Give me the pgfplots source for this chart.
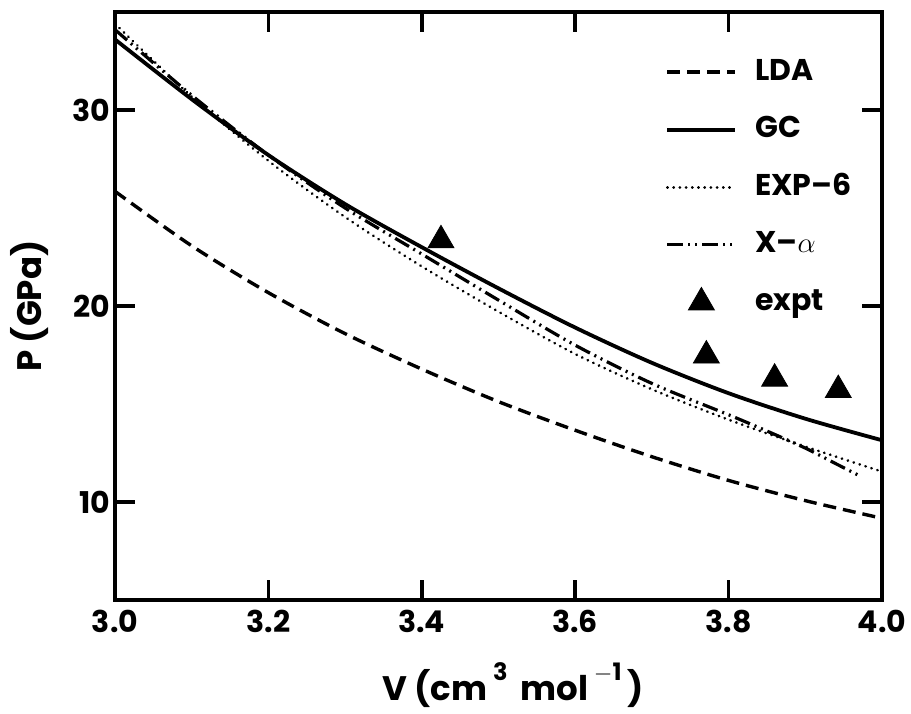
\documentclass[border=0pt]{standalone}
\usepackage{fontspec}
\setmainfont{Poppins}
\usepackage{pgfplots}
\pgfplotsset{compat=1.18}
\pgfplotsset{marklegend/.style={legend image code/.code={\draw[##1] plot[only marks] coordinates {(17pt,0pt)};}}}
\pgfplotstableread{
V P
3.0 25.85
3.1 23.07
3.2 20.68
3.3 18.59
3.4 16.78
3.5 15.12
3.6 13.66
3.7 12.31
3.8 11.10
3.9 10.07
4.0 9.17
}\lda
\pgfplotstableread{
V P
3.0 33.6
3.1 30.55
3.2 27.7
3.3 25.2
3.4 23.0
3.5 20.9
3.6 18.9
3.7 17.1
3.8 15.55
3.9 14.25
4.0 13.15
}\gc
\pgfplotstableread{
V P
3.0 34.4
3.1 30.68
3.2 27.41
3.3 24.54
3.4 22.02
3.5 19.71
3.6 17.55
3.7 15.75
3.8 14.2
3.9 12.83
4.0 11.55
}\expsix
\pgfplotstableread{
V P
3.0 34.1
3.1 30.75
3.2 27.7
3.3 25.0
3.4 22.65
3.5 20.3
3.6 18.0
3.7 16.05
3.8 14.45
3.85 13.62
3.9 12.75
3.94 11.95
3.97 11.35
}\xalpha
\pgfplotstableread{
V P
3.425 23.35
3.771 17.47
3.860 16.29
3.943 15.71
}\expt
\begin{document}
\bfseries
\begin{tikzpicture}
\useasboundingbox (-57.5pt,-56.5pt) rectangle (398pt,300pt);
\begin{axis}[
  at={(0pt,0pt)}, anchor=south west,
  scale only axis, width=383.5pt, height=294pt,
  xmin=3.0, xmax=4.0, ymin=5, ymax=35,
  xtick={3.0,3.2,3.4,3.6,3.8,4.0},
  ytick={10,20,30},
  minor tick num=0,
  tick align=inside,
  major tick length=10pt,
  tick style={line width=1.8pt, black},
  axis line style={line width=2.2pt},
  /pgf/number format/assume math mode=true,
  xticklabel style={yshift=-1.5pt, /pgf/number format/.cd, fixed, fixed zerofill, precision=1},
  yticklabel style={xshift=1pt},
  ticklabel style={font=\fontsize{15}{18}\selectfont\bfseries},
  every axis y label/.style={at={(axis description cs:-0.111,0.5)}, rotate=90, anchor=center, font=\fontsize{17}{20}\selectfont\bfseries},
  every axis x label/.style={at={(axis description cs:0.519,-0.171)}, anchor=base, font=\fontsize{17}{20}\selectfont\bfseries},
  xlabel={V (cm\,\raisebox{0.6em}{\fontsize{12}{14}\selectfont 3}\, mol\,\raisebox{0.6em}{\fontsize{12}{14}\selectfont $-$1}\,)},
  ylabel={P (GPa)},
  legend cell align=left,
  legend image code/.code={\draw[mark repeat=2,mark phase=2,#1] (0pt,0pt) -- (17pt,0pt) -- (34pt,0pt);},
  legend style={draw=none, fill=none, at={(0.974,0.936)}, anchor=north east,
    font=\fontsize{15}{18}\selectfont\bfseries, row sep=10.8pt, column sep=7pt,
    nodes={text height=11pt, text depth=3pt, inner sep=2pt}},
]
\addplot[black, line width=1.7pt, dash pattern=on 6.5pt off 3.5pt, smooth] table[x=V,y=P] {\lda};
\addlegendentry{LDA}
\addplot[black, line width=1.9pt, smooth] table[x=V,y=P] {\gc};
\addlegendentry{GC}
\addplot[black, line width=1.4pt, line cap=round, dash pattern=on 0.1pt off 3pt, smooth] table[x=V,y=P] {\expsix};
\addlegendentry{EXP--6}
\addplot[black, line width=1.6pt, dash pattern=on 8pt off 2.5pt on 1pt off 2.5pt on 1pt off 2.5pt, smooth] table[x=V,y=P] {\xalpha};
\addlegendentry{X--$\alpha$}
\addplot[only marks, mark=triangle*, mark size=7.5pt, mark options={fill=black, draw=black, line width=0.4pt, solid}, marklegend] table[x=V,y=P] {\expt};
\addlegendentry{expt}
\end{axis}
\end{tikzpicture}
\end{document}
